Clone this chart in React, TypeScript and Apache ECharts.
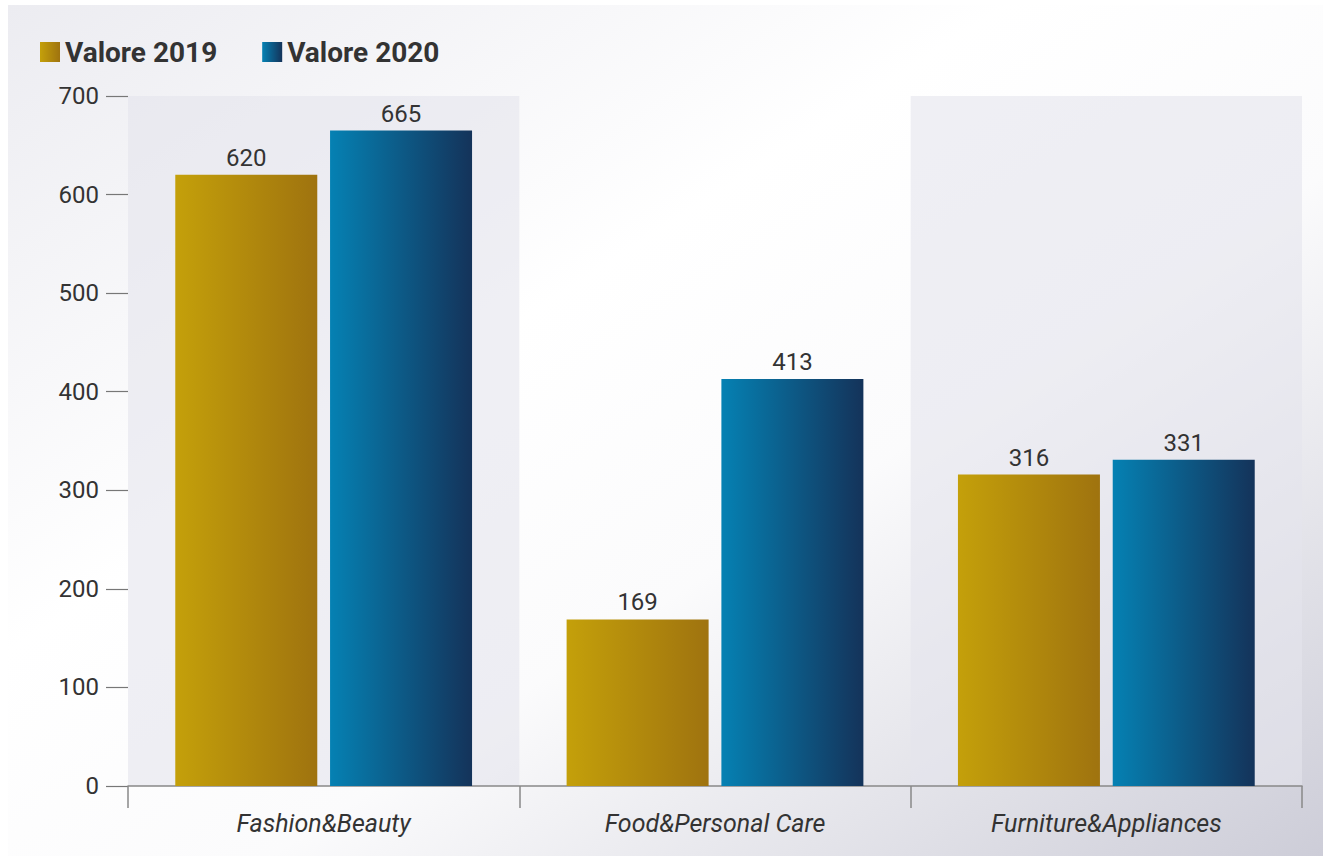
import React, { useEffect, useRef } from "react";
import * as echarts from "echarts";

const categories = ["Fashion&Beauty", "Food&Personal Care", "Furniture&Appliances"];
const values2019 = [620, 169, 316];
const values2020 = [665, 413, 331];
const seriesNames = ["Valore 2019", "Valore 2020"];

const FONT = "Roboto, 'Noto Sans', sans-serif";

function hGrad(a: string, b: string) {
  return new echarts.graphic.LinearGradient(0, 0, 1, 0, [
    { offset: 0, color: a },
    { offset: 1, color: b },
  ]);
}

export default function App() {
  const ref = useRef<HTMLDivElement>(null);
  useEffect(() => {
    if (!ref.current) return;
    const chart = echarts.init(ref.current, undefined, { renderer: "svg" });
    const labelCfg = {
      show: true,
      position: "top" as const,
      distance: 5,
      color: "#333",
      fontSize: 24,
      fontFamily: FONT,
    };
    chart.setOption({
      animation: false,
      backgroundColor: new echarts.graphic.LinearGradient(0, 0, 1, 1, [
        { offset: 0, color: "#ececf1" },
        { offset: 0.38, color: "#ffffff" },
        { offset: 0.6, color: "#fbfbfc" },
        { offset: 1, color: "#cdcdd8" },
      ]),
      legend: {
        left: 27,
        top: 28,
        icon: "rect",
        itemWidth: 20,
        itemHeight: 20,
        itemGap: 45,
        textStyle: { fontSize: 28, fontWeight: "bold", color: "#333", fontFamily: FONT },
        data: seriesNames,
      },
      grid: { left: 120, right: 21, top: 91, bottom: 70, containLabel: false },
      xAxis: {
        type: "category",
        data: categories,
        axisLine: { lineStyle: { color: "#888", width: 1.5 } },
        axisTick: { show: true, length: 22, lineStyle: { color: "#888", width: 1.5 } },
        axisLabel: {
          color: "#333",
          fontSize: 25,
          fontStyle: "italic",
          fontFamily: FONT,
          margin: 25,
        },
        splitArea: {
          show: true,
          areaStyle: { color: ["rgba(228,228,236,0.6)", "rgba(0,0,0,0)"] },
        },
      },
      yAxis: {
        type: "value",
        min: 0,
        max: 700,
        interval: 100,
        axisLine: { show: false },
        axisTick: { show: true, length: 22, lineStyle: { color: "#777", width: 1.2 } },
        splitLine: { show: false },
        axisLabel: { color: "#333", fontSize: 24, fontFamily: FONT, margin: 29 },
      },
      series: [
        {
          name: seriesNames[0],
          type: "bar",
          data: values2019,
          barWidth: 142,
          barGap: "9%",
          itemStyle: { color: hGrad("#c4a00a", "#9f730f") },
          label: labelCfg,
        },
        {
          name: seriesNames[1],
          type: "bar",
          data: values2020,
          barWidth: 142,
          barGap: "9%",
          itemStyle: { color: hGrad("#0581b3", "#14335a") },
          label: labelCfg,
        },
      ],
    });
    return () => chart.dispose();
  }, []);
  return (
    <div
      ref={ref}
      style={{ position: "fixed", left: 8, top: 5, width: 1315, height: 851 }}
    />
  );
}
